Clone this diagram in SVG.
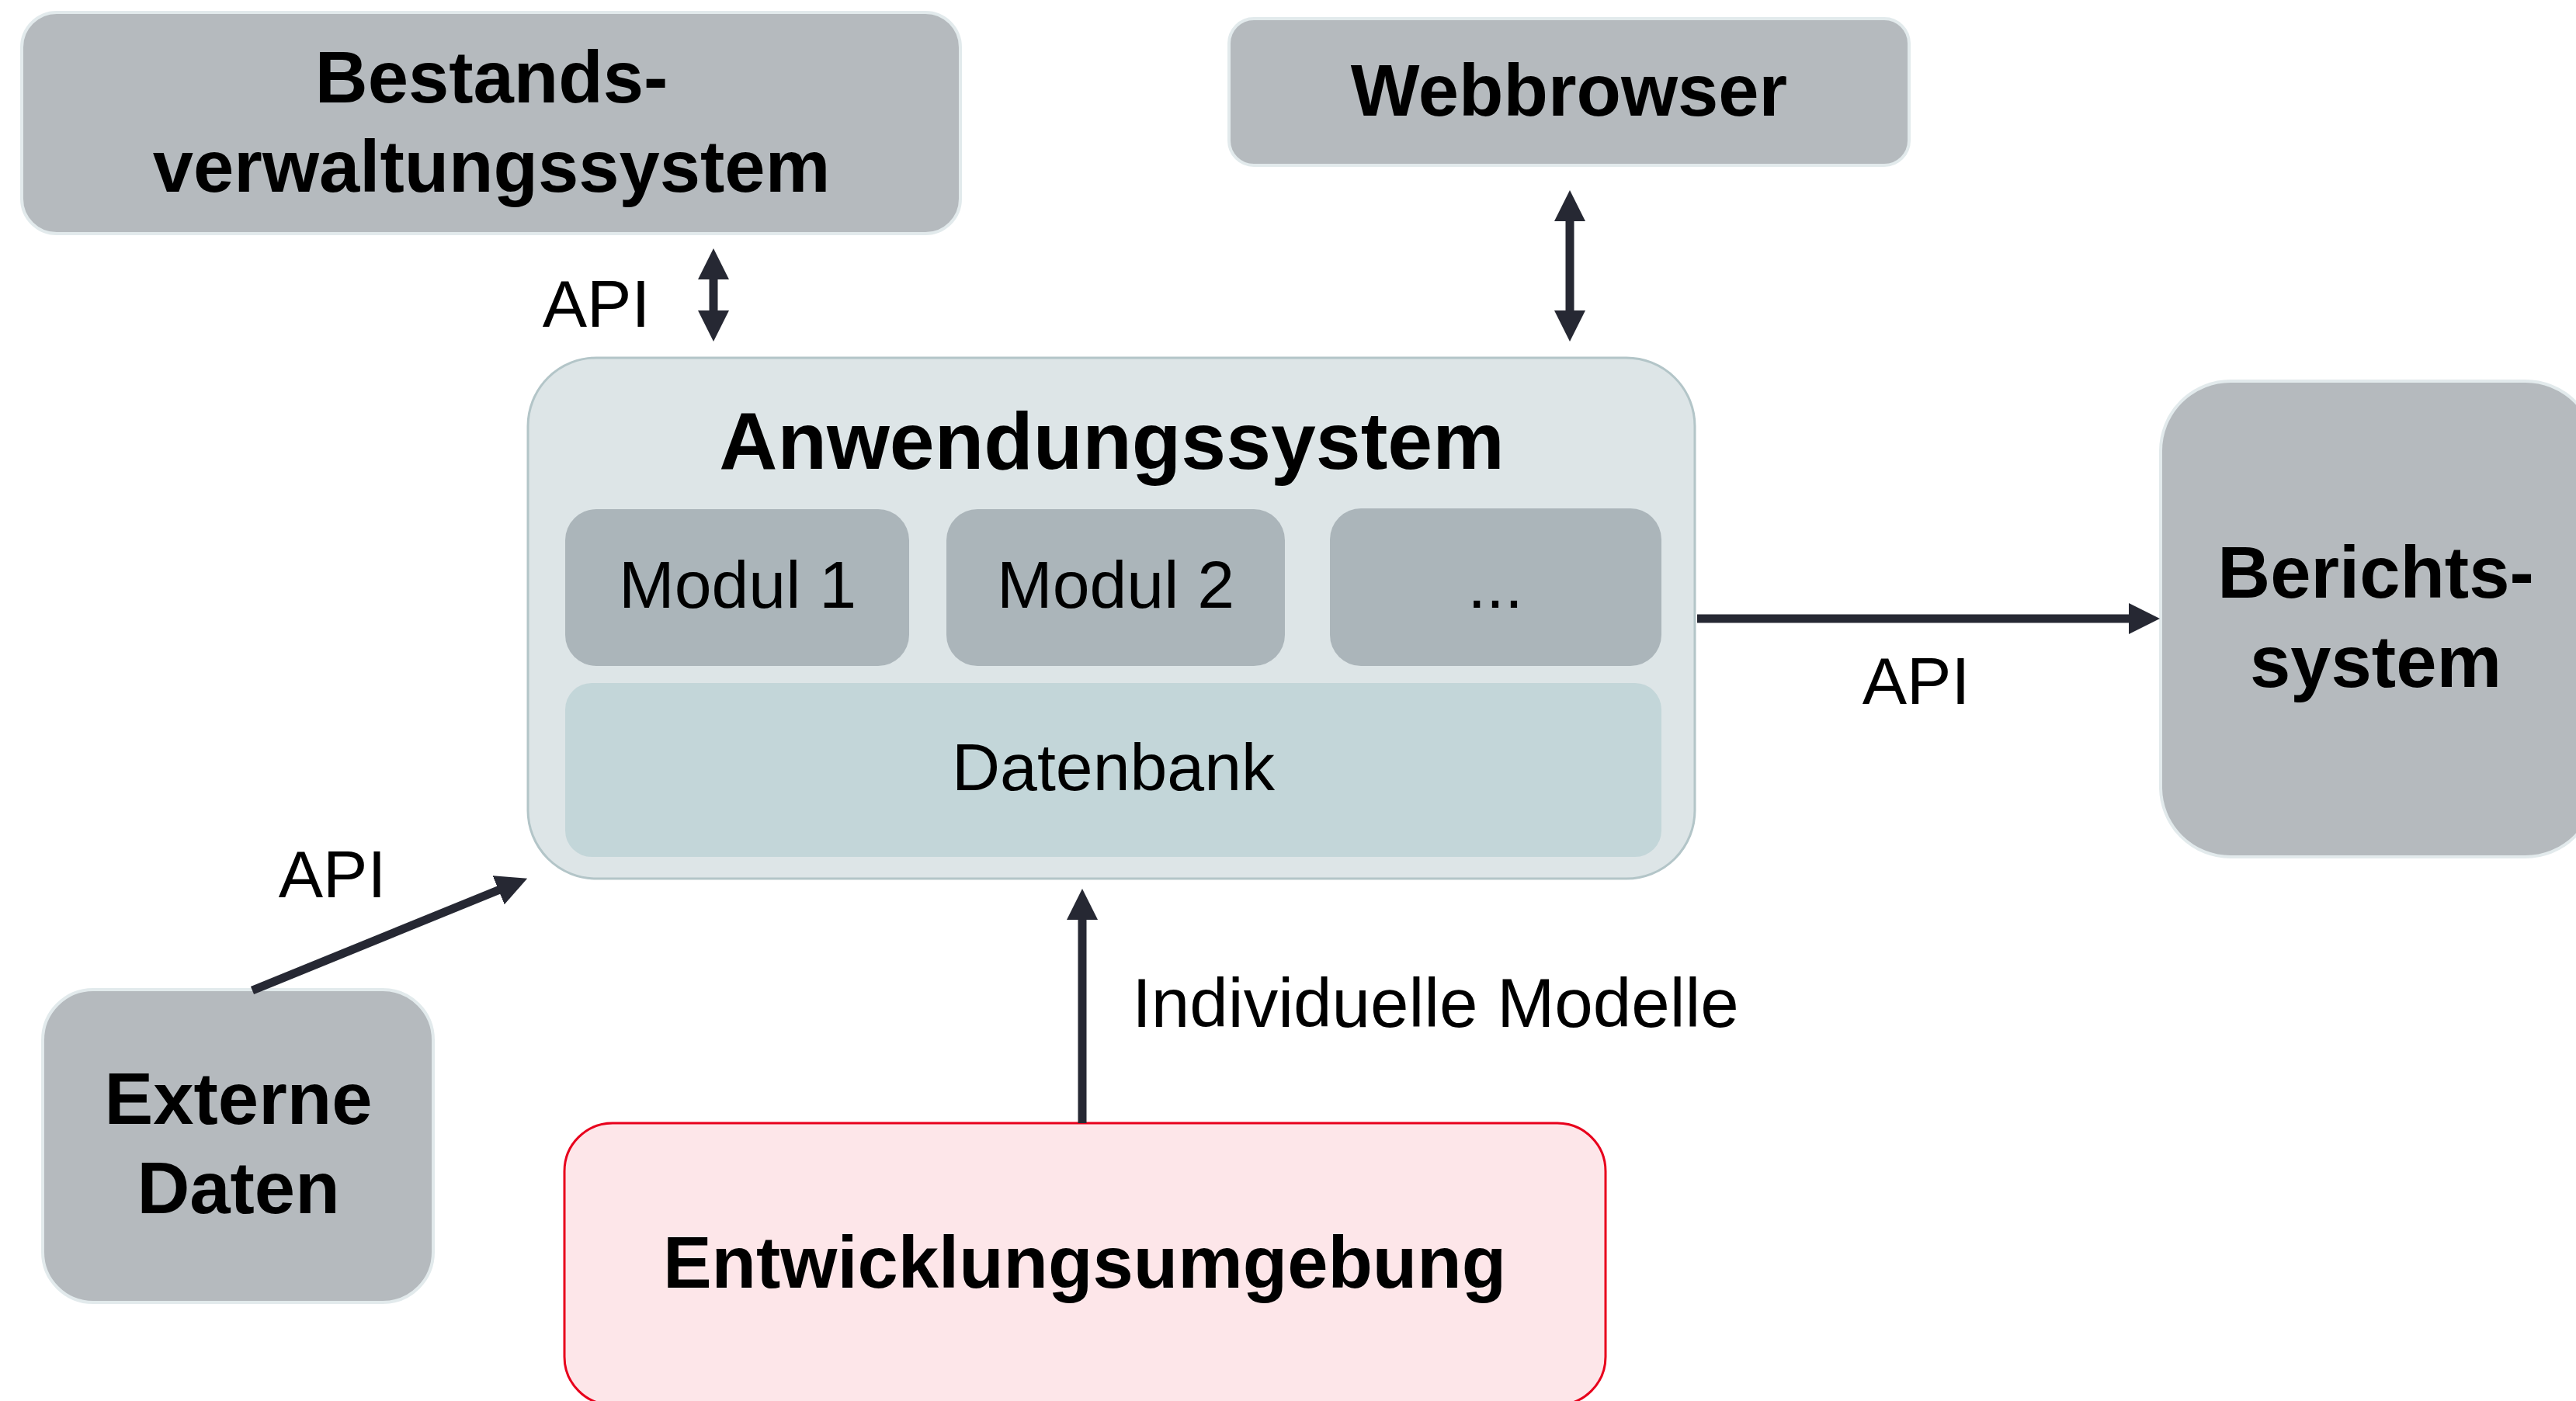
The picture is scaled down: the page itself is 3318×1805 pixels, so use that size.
<svg xmlns="http://www.w3.org/2000/svg" width="3318" height="1805" viewBox="0 0 3318 1805">
<defs>
<style>
.gray{fill:#b5babe;stroke:#e2eaec;stroke-width:4}
.bold{font-family:"Liberation Sans",Arial,sans-serif;font-weight:bold;font-size:94px;fill:#000;text-anchor:middle}
.reg{font-family:"Liberation Sans",Arial,sans-serif;font-size:86px;fill:#000;text-anchor:middle}
.mod{fill:#abb5ba}
.conn{stroke:#262833;stroke-width:11;fill:none}
</style>
<marker id="ah" viewBox="0 0 40 40" refX="2" refY="20" markerWidth="40" markerHeight="40" markerUnits="userSpaceOnUse" orient="auto-start-reverse">
<path d="M0,0 L40,20 L0,40 z" fill="#262833"/>
</marker>
</defs>
<rect width="3318" height="1805" fill="#fff"/>

<g id="bestand">
<rect class="gray" x="28" y="16" width="1209" height="285" rx="45" ry="45"/>
<text class="bold" x="633" y="132">Bestands-</text>
<text class="bold" x="633" y="247">verwaltungssystem</text>
</g>

<g id="webbrowser">
<rect class="gray" x="1583" y="24" width="876" height="189" rx="32" ry="32"/>
<text class="bold" x="2021" y="149">Webbrowser</text>
</g>

<g id="anwendung">
<rect x="680" y="461" width="1503" height="671" rx="88" ry="88" fill="#dde5e7" stroke="#b3c5c8" stroke-width="3"/>
<text class="bold" x="1432" y="604" style="font-size:104px">Anwendungssystem</text>
<g id="modul1">
<rect class="mod" x="728" y="656" width="443" height="202" rx="40" ry="40"/>
<text class="reg" x="950" y="783">Modul 1</text>
</g>
<g id="modul2">
<rect class="mod" x="1219" y="656" width="436" height="202" rx="40" ry="40"/>
<text class="reg" x="1437" y="783">Modul 2</text>
</g>
<g id="modul3">
<rect class="mod" x="1713" y="655" width="427" height="203" rx="40" ry="40"/>
<text class="reg" x="1926" y="783">...</text>
</g>
<g id="datenbank">
<rect x="728" y="880" width="1412" height="224" rx="34" ry="34" fill="#c3d6d9"/>
<text class="reg" x="1434" y="1018">Datenbank</text>
</g>
</g>

<g id="berichtssystem">
<rect class="gray" x="2783" y="491" width="560" height="613" rx="90" ry="90"/>
<text class="bold" x="3060" y="770">Berichts-</text>
<text class="bold" x="3060" y="885">system</text>
</g>

<g id="externe">
<rect class="gray" x="55" y="1275" width="503" height="403" rx="65" ry="65"/>
<text class="bold" x="307" y="1448">Externe</text>
<text class="bold" x="307" y="1563">Daten</text>
</g>

<g id="entwicklung">
<rect x="727" y="1447" width="1341" height="363" rx="62" ry="62" fill="#fde6e9" stroke="#e8001c" stroke-width="3"/>
<text class="bold" x="1397" y="1659">Entwicklungsumgebung</text>
</g>

<g id="connectors">
<line class="conn" x1="919" y1="358" x2="919" y2="402" marker-start="url(#ah)" marker-end="url(#ah)"/>
<text class="reg" x="768" y="421">API</text>
<line class="conn" x1="2022" y1="283" x2="2022" y2="402" marker-start="url(#ah)" marker-end="url(#ah)"/>
<line class="conn" x1="2186" y1="797" x2="2744" y2="797" marker-end="url(#ah)"/>
<text class="reg" x="2468" y="907">API</text>
<line class="conn" x1="1394" y1="1447" x2="1394" y2="1183" marker-end="url(#ah)"/>
<text class="reg" x="1849" y="1323" style="font-size:89px">Individuelle Modelle</text>
<line class="conn" x1="325" y1="1276" x2="644" y2="1146" marker-end="url(#ah)"/>
<text class="reg" x="428" y="1156">API</text>
</g>
</svg>
